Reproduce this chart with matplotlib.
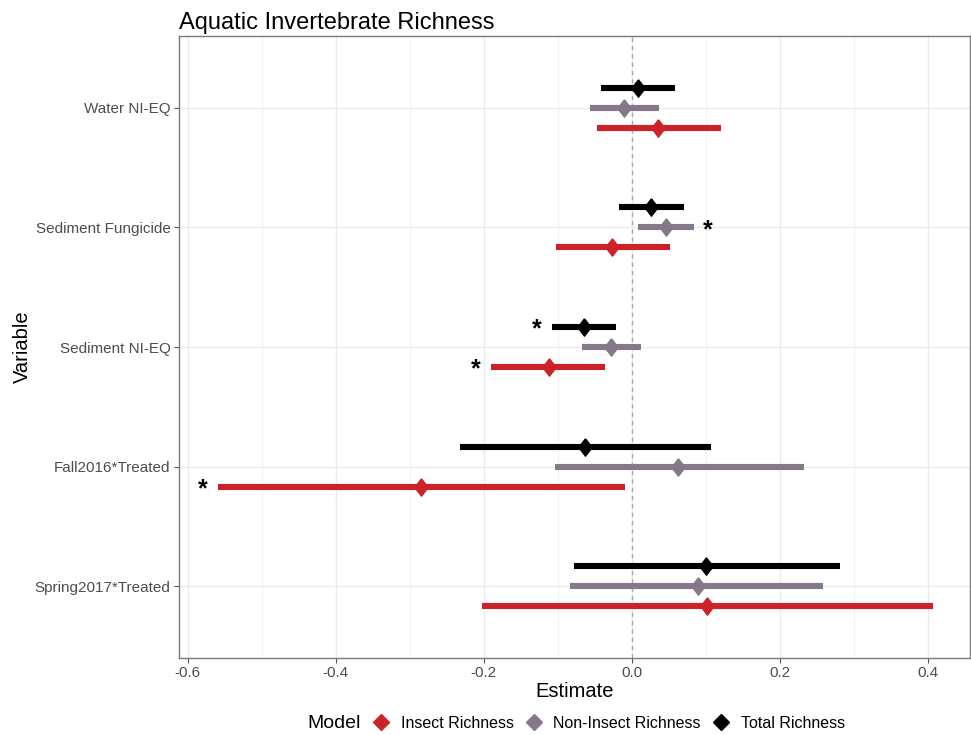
import numpy as np
import matplotlib
matplotlib.use('Agg')
import matplotlib.pyplot as plt
from matplotlib.lines import Line2D

plt.rcParams['font.family'] = ['Liberation Sans', 'DejaVu Sans']

variables = ['Water NI-EQ', 'Sediment Fungicide', 'Sediment NI-EQ',
             'Fall2016*Treated', 'Spring2017*Treated']
models = ['Insect Richness', 'Non-Insect Richness', 'Total Richness']

# estimates and confidence limits, one list per model (same order as variables)
insect_est = [0.036, -0.027, -0.112, -0.285, 0.102]
insect_lo = [-0.047, -0.103, -0.190, -0.559, -0.202]
insect_hi = [0.120, 0.052, -0.036, -0.009, 0.407]

noninsect_est = [-0.010, 0.046, -0.028, 0.063, 0.090]
noninsect_lo = [-0.056, 0.008, -0.068, -0.104, -0.083]
noninsect_hi = [0.037, 0.084, 0.012, 0.232, 0.259]

total_est = [0.008, 0.026, -0.065, -0.063, 0.100]
total_lo = [-0.042, -0.018, -0.108, -0.232, -0.078]
total_hi = [0.058, 0.071, -0.022, 0.107, 0.281]

# significant results: (variable, model, side of the interval the star sits on)
stars = [('Sediment Fungicide', 'Non-Insect Richness', 'hi'),
         ('Sediment NI-EQ', 'Total Richness', 'lo'),
         ('Sediment NI-EQ', 'Insect Richness', 'lo'),
         ('Fall2016*Treated', 'Insect Richness', 'lo')]

colors = {'Insect Richness': '#CC2229',
          'Non-Insect Richness': '#85788A',
          'Total Richness': '#000000'}
dodge = {'Insect Richness': 0.167, 'Non-Insect Richness': 0.0, 'Total Richness': -0.167}
data = {'Insect Richness': (insect_est, insect_lo, insect_hi),
        'Non-Insect Richness': (noninsect_est, noninsect_lo, noninsect_hi),
        'Total Richness': (total_est, total_lo, total_hi)}

diamond = [(0, 1), (0.77, 0), (0, -1), (-0.77, 0), (0, 1)]

fig = plt.figure(figsize=(9.71, 7.35), dpi=100)
ax = fig.add_axes([179/971, 1-658/735, (970-179)/971, (658-36)/735])

ypos = np.arange(len(variables))
ax.axvline(0, color='#A8A8A8', lw=1.0, ls=(0, (3, 3)), zorder=1)

for m in models:
    est, lo, hi = data[m]
    y = ypos + dodge[m]
    ax.hlines(y, lo, hi, color=colors[m], lw=4.4, zorder=3)
    ax.plot(est, y, ls='none', marker=diamond, ms=12.5, color=colors[m], zorder=4)

for var, m, side in stars:
    i = variables.index(var)
    est, lo, hi = data[m]
    x = hi[i] if side == 'hi' else lo[i]
    off = 10 if side == 'hi' else -11
    ax.annotate('*', (x, i + dodge[m]), xytext=(off, -2), textcoords='offset points',
                ha='center', va='center', fontsize=18, fontweight='bold', color='black')

ax.set_xlim(-0.612, 0.457)
ax.set_ylim(len(variables) - 0.4, -0.6)
ax.set_xticks([-0.6, -0.4, -0.2, 0.0, 0.2, 0.4])
ax.set_xticklabels(['-0.6', '-0.4', '-0.2', '0.0', '0.2', '0.4'])
ax.set_xticks([-0.5, -0.3, -0.1, 0.1, 0.3], minor=True)
ax.set_yticks(ypos)
ax.set_yticklabels(variables)

ax.grid(True, which='major', color='#EBEBEB', lw=1.0, zorder=0)
ax.grid(True, which='minor', axis='x', color='#F2F2F2', lw=0.8, zorder=0)
ax.set_axisbelow(True)
ax.tick_params(axis='both', which='major', length=3.5, width=0.8, color='#555555',
               labelsize=11, labelcolor='#4D4D4D', pad=2.5)
ax.tick_params(axis='x', which='minor', length=0)
for s in ax.spines.values():
    s.set_color('#7A7A7A')
    s.set_linewidth(1.0)

ax.set_xlabel('Estimate', fontsize=14.5, labelpad=1.5)
ax.set_ylabel('Variable', fontsize=14.5, labelpad=2)
ax.set_title('Aquatic Invertebrate Richness', loc='left', fontsize=17, pad=5)

handles = [Line2D([], [], ls='none', marker='D', ms=8.5, color=colors[m]) for m in models]
fig.text(307/971, 1-723/735, 'Model', fontsize=14, va='center', ha='left')
fig.legend(handles, models, loc='center left', bbox_to_anchor=(371/971, 1-723/735),
           ncol=3, frameon=False, fontsize=11.5, handlelength=1.2, handletextpad=0.65,
           columnspacing=0.65, borderpad=0, borderaxespad=0)

fig.savefig('out.png', dpi=100)
